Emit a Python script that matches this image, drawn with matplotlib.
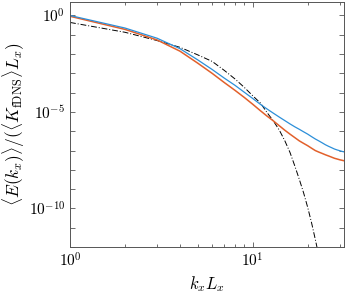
import numpy as np
import matplotlib
matplotlib.use("Agg")
import matplotlib.pyplot as plt

plt.rcParams['mathtext.fontset'] = 'cm'
plt.rcParams['font.family'] = ['DejaVu Serif']

k = np.arange(1, 33)
logE_blue = [0.00, -0.65, -1.18, -1.72, -2.30, -2.80, -3.25, -3.62, -3.98, -4.30,
             -4.60, -4.85, -5.07, -5.27, -5.45, -5.62, -5.77, -5.90, -6.03, -6.15,
             -6.28, -6.40, -6.50, -6.60, -6.70, -6.78, -6.85, -6.92, -6.97, -7.01,
             -7.05, -7.08]
logE_orange = [-0.04, -0.72, -1.27, -1.85, -2.47, -3.00, -3.48, -3.88, -4.25, -4.60,
               -4.93, -5.22, -5.47, -5.72, -5.95, -6.15, -6.33, -6.50, -6.63, -6.75,
               -6.88, -7.00, -7.08, -7.15, -7.22, -7.28, -7.34, -7.40, -7.44, -7.48,
               -7.51, -7.54]
k_model = np.arange(1, 25)
logE_model = [-0.36, -0.87, -1.30, -1.65, -2.04, -2.38, -2.85, -3.29, -3.73, -4.16,
              -4.53, -5.04, -5.48, -5.95, -6.50, -7.10, -7.80, -8.50, -9.20, -9.95,
              -10.75, -11.60, -12.45, -13.30]

E_blue = 10.0 ** np.array(logE_blue)
E_orange = 10.0 ** np.array(logE_orange)
E_model = 10.0 ** np.array(logE_model)

fig = plt.figure(figsize=(3.49, 2.96), dpi=100)
ax = fig.add_axes([0.2006, 0.1655, 0.7851, 0.8277])

ax.plot(k_model, E_model, color='black', lw=0.7, ls=(0, (6, 2, 1, 2)))
ax.plot(k, E_orange, color='#E2602B', lw=1.1)
ax.plot(k, E_blue, color='#2C8FD9', lw=0.9)

ax.set_xscale('log')
ax.set_yscale('log')
ax.set_xlim(1, 31.6)
ax.set_ylim(1e-12, 5)

ax.set_xticks([1, 10])
ax.set_xticklabels([r'$10^{0}$', r'$10^{1}$'])
ax.set_xticks([2, 3, 4, 5, 6, 7, 8, 9, 20, 30], minor=True)
ax.set_xticklabels([], minor=True)

yt = [10.0 ** e for e in range(-12, 1)]
ax.set_yticks(yt)
ax.set_yticklabels([r'$10^{%d}$' % e if e in (0, -5, -10) else '' for e in range(-12, 1)])
ax.yaxis.set_minor_locator(matplotlib.ticker.NullLocator())

ax.tick_params(which='both', direction='in', top=True, right=True, labelsize=11,
               color='#555555', width=0.6)
ax.tick_params(which='major', length=3.5)
ax.tick_params(which='minor', length=2)
for s in ax.spines.values():
    s.set_color('#555555')
    s.set_linewidth(0.7)

ax.set_xlabel(r'$k_x L_x$', fontsize=12, labelpad=3)
ax.set_ylabel(r'$\langle E(k_x)\rangle/(\langle K_{\rm fDNS}\rangle L_x)$', fontsize=12.5, labelpad=1)

fig.savefig('out.png', dpi=100)
